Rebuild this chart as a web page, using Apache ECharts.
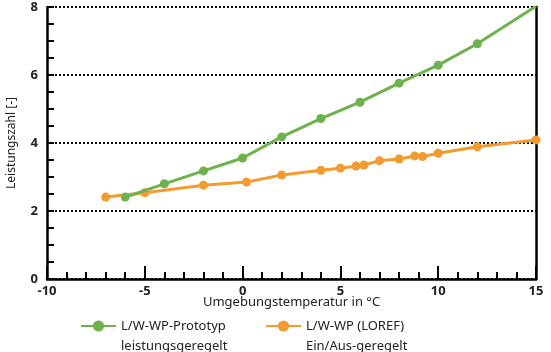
<!DOCTYPE html>
<html>
<head>
<meta charset="utf-8">
<script src="https://cdn.jsdelivr.net/npm/echarts@6/dist/echarts.min.js"></script>
<style>
  html, body { margin: 0; padding: 0; background: #fff; }
  #chart { width: 551px; height: 352px; }
</style>
</head>
<body>
<div id="chart"></div>
<script>
// Prototyp (leistungsgeregelt)
const protoTemp = [-6, -4, -2, 0, 2, 4, 6, 8, 10, 12, 15];
const protoCop = [2.41, 2.8, 3.18, 3.56, 4.18, 4.72, 5.2, 5.76, 6.29, 6.92, 8.02];

// LOREF (Ein/Aus-geregelt)
const lorefTemp = [-7, -5, -2, 0.2, 2, 4, 5, 5.8, 6.2, 7, 8, 8.8, 9.2, 10, 12, 15];
const lorefCop = [2.41, 2.54, 2.76, 2.85, 3.06, 3.2, 3.26, 3.32, 3.35, 3.48, 3.53, 3.62, 3.6, 3.7, 3.89, 4.09];

const seriesNames = ["L/W-WP-Prototyp", "L/W-WP (LOREF)"];
const seriesSub = ["leistungsgeregelt", "Ein/Aus-geregelt"];

const font = "Noto Sans";
const myChart = echarts.init(document.getElementById("chart"));

function pairs(xs, ys) {
  return xs.map((x, i) => [x, ys[i]]);
}

function legendFor(i, left) {
  return {
    left: left,
    top: 296,
    padding: 0,
    itemWidth: 35,
    itemHeight: 14,
    data: [seriesNames[i]],
    // leere erste Zeile, damit das Symbol auf Höhe der ersten Textzeile sitzt
    formatter: (name) => "\n" + name + "\n" + seriesSub[i],
    textStyle: { fontFamily: font, fontSize: 13, color: "#222", lineHeight: 20 },
  };
}

const option = {
  animation: false,
  grid: { left: 47, right: 15, top: 7, bottom: 73, outerBoundsMode: "none" },
  legend: [legendFor(0, 80), legendFor(1, 265)],
  xAxis: {
    type: "value",
    min: -10,
    max: 15,
    interval: 5,
    name: "Umgebungstemperatur in °C",
    nameLocation: "middle",
    nameGap: 17,
    nameMoveOverlap: false,
    nameTextStyle: { fontFamily: font, fontSize: 13, color: "#222", verticalAlign: "top" },
    axisLine: { show: true, onZero: false, lineStyle: { color: "#000", width: 2.5 } },
    axisTick: { show: true, inside: true, length: 13, lineStyle: { color: "#000", width: 2 } },
    minorTick: { show: true, splitNumber: 5, length: 7, lineStyle: { color: "#000", width: 2 } },
    axisLabel: { fontFamily: font, fontSize: 13, fontWeight: "bold", color: "#222", margin: 6 },
    splitLine: { show: false },
  },
  yAxis: [
    {
      type: "value",
      min: 0,
      max: 8,
      interval: 2,
      name: "Leistungszahl [-]",
      nameLocation: "middle",
      nameGap: 29,
      nameMoveOverlap: false,
      nameTextStyle: { fontFamily: font, fontSize: 12, color: "#222" },
      axisLine: { show: true, onZero: false, lineStyle: { color: "#000", width: 2.5 } },
      axisTick: { show: true, inside: true, length: 7, lineStyle: { color: "#000", width: 2 } },
      minorTick: { show: true, splitNumber: 4, length: 7, lineStyle: { color: "#000", width: 2 } },
      axisLabel: { fontFamily: font, fontSize: 13, fontWeight: "bold", color: "#222", margin: 9 },
      splitLine: { show: true, lineStyle: { color: "#000", width: 2, type: [2, 2] } },
    },
    {
      type: "value",
      min: 0,
      max: 8,
      interval: 2,
      position: "right",
      axisLine: { show: true, onZero: false, lineStyle: { color: "#000", width: 2.5 } },
      axisTick: { show: false },
      axisLabel: { show: false },
      splitLine: { show: false },
    },
  ],
  series: [
    {
      name: seriesNames[0],
      type: "line",
      data: pairs(protoTemp, protoCop),
      symbol: "circle",
      symbolSize: 9,
      lineStyle: { color: "#6db34b", width: 3 },
      itemStyle: { color: "#6db34b" },
      z: 3,
    },
    {
      name: seriesNames[1],
      type: "line",
      data: pairs(lorefTemp, lorefCop),
      symbol: "circle",
      symbolSize: 9,
      lineStyle: { color: "#f39b2e", width: 3 },
      itemStyle: { color: "#f39b2e" },
      z: 2,
    },
  ],
};

myChart.setOption(option);
</script>
</body>
</html>
